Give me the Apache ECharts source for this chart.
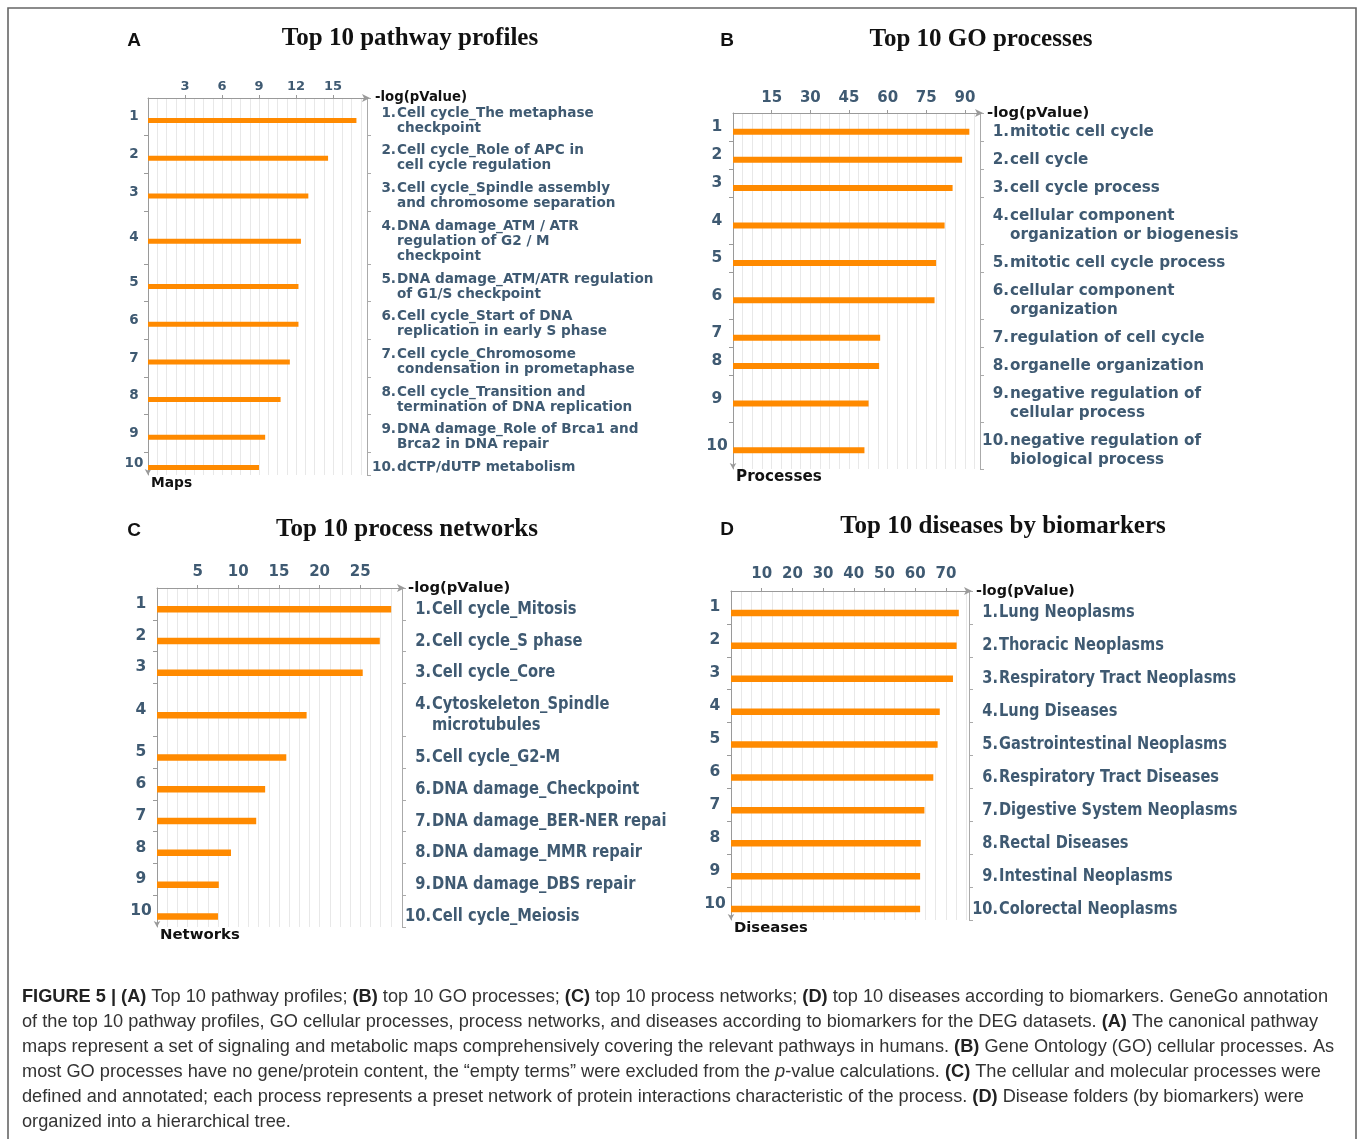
<!DOCTYPE html>
<html>
<head>
<meta charset="utf-8">
<script src="https://cdn.jsdelivr.net/npm/echarts@6/dist/echarts.min.js"></script>
<style>
html,body{margin:0;padding:0;background:#fff;}
#chart{width:1358px;height:1139px;}
</style>
</head>
<body>
<div id="chart"></div>
<script>
// ---------------- DATA ----------------
const rankLabels = ['1','2','3','4','5','6','7','8','9','10'];

const pathwayLabels = [
  'Cell cycle_The metaphase\ncheckpoint',
  'Cell cycle_Role of APC in\ncell cycle regulation',
  'Cell cycle_Spindle assembly\nand chromosome separation',
  'DNA damage_ATM / ATR\nregulation of G2 / M\ncheckpoint',
  'DNA damage_ATM/ATR regulation\nof G1/S checkpoint',
  'Cell cycle_Start of DNA\nreplication in early S phase',
  'Cell cycle_Chromosome\ncondensation in prometaphase',
  'Cell cycle_Transition and\ntermination of DNA replication',
  'DNA damage_Role of Brca1 and\nBrca2 in DNA repair',
  'dCTP/dUTP metabolism'
];
const pathwayValues = [16.9, 14.6, 13.0, 12.4, 12.2, 12.2, 11.5, 10.75, 9.5, 9.0];
const pathwayTicks = [3, 6, 9, 12, 15];

const goLabels = [
  'mitotic cell cycle',
  'cell cycle',
  'cell cycle process',
  'cellular component\norganization or biogenesis',
  'mitotic cell cycle process',
  'cellular component\norganization',
  'regulation of cell cycle',
  'organelle organization',
  'negative regulation of\ncellular process',
  'negative regulation of\nbiological process'
];
const goValues = [91.7, 88.9, 85.2, 82.1, 78.8, 78.2, 57.1, 56.7, 52.6, 51.0];
const goTicks = [15, 30, 45, 60, 75, 90];

const networkLabels = [
  'Cell cycle_Mitosis',
  'Cell cycle_S phase',
  'Cell cycle_Core',
  'Cytoskeleton_Spindle\nmicrotubules',
  'Cell cycle_G2-M',
  'DNA damage_Checkpoint',
  'DNA damage_BER-NER repai',
  'DNA damage_MMR repair',
  'DNA damage_DBS repair',
  'Cell cycle_Meiosis'
];
const networkValues = [28.8, 27.4, 25.3, 18.4, 15.9, 13.3, 12.2, 9.1, 7.6, 7.5];
const networkTicks = [5, 10, 15, 20, 25];

const diseaseLabels = [
  'Lung Neoplasms',
  'Thoracic Neoplasms',
  'Respiratory Tract Neoplasms',
  'Lung Diseases',
  'Gastrointestinal Neoplasms',
  'Respiratory Tract Diseases',
  'Digestive System Neoplasms',
  'Rectal Diseases',
  'Intestinal Neoplasms',
  'Colorectal Neoplasms'
];
const diseaseValues = [74.2, 73.5, 72.3, 68.0, 67.3, 65.9, 63.0, 61.8, 61.6, 61.6];
const diseaseTicks = [10, 20, 30, 40, 50, 60, 70];

const captionLines = [
  '{b|FIGURE 5 | (A)} Top 10 pathway profiles; {b|(B)} top 10 GO processes; {b|(C)} top 10 process networks; {b|(D)} top 10 diseases according to biomarkers. GeneGo annotation',
  'of the top 10 pathway profiles, GO cellular processes, process networks, and diseases according to biomarkers for the DEG datasets. {b|(A)} The canonical pathway',
  'maps represent a set of signaling and metabolic maps comprehensively covering the relevant pathways in humans. {b|(B)} Gene Ontology (GO) cellular processes. As',
  'most GO processes have no gene/protein content, the \u201cempty terms\u201d were excluded from the {i|p}-value calculations. {b|(C)} The cellular and molecular processes were',
  'defined and annotated; each process represents a preset network of protein interactions characteristic of the process. {b|(D)} Disease folders (by biomarkers) were',
  'organized into a hierarchical tree.'
];

// ---------------- STYLE / LAYOUT ----------------
const FONT = '"DejaVu Sans", sans-serif';
const CAP_FONT = '"Liberation Sans", Arial, sans-serif';
const CAP_SIZE = 18.2;
const C_LABEL = '#3f5a72';
const C_BAR = '#ff8a00';
const C_AXIS = '#9a9a9a';
const C_GRID = '#e8e8e8';

const panels = [
  { letter:'A', title:'Top 10 pathway profiles', titleX:410, titleY:39, letterX:134, letterY:41,
    labels: pathwayLabels, values: pathwayValues, ticks: pathwayTicks, interval:3, max:18, yName:'Maps',
    grid:{left:148, top:98, width:222, height:377}, tickFont:13, tickMargin:5, rankFont:13.5, rankMargin:14,
    labelFont:13.6, lineH:15, sy:1, barH:5, nameFont:13.3, nameGap:5, nameLift:12, yNameFont:13.8, minor:4 },
  { letter:'B', title:'Top 10 GO processes', titleX:981, titleY:40, letterX:727, letterY:41,
    labels: goLabels, values: goValues, ticks: goTicks, interval:15, max:97, yName:'Processes',
    grid:{left:733, top:113, width:250, height:356}, tickFont:15, tickMargin:7, rankFont:15.5, rankMargin:16,
    labelFont:15.2, lineH:19, sy:1.05, barH:6, nameFont:14.8, nameGap:4, nameLift:16, yNameFont:15.2, minor:4 },
  { letter:'C', title:'Top 10 process networks', titleX:407, titleY:530, letterX:134, letterY:531,
    labels: networkLabels, values: networkValues, ticks: networkTicks, interval:5, max:30.5, yName:'Networks',
    grid:{left:157, top:588, width:248, height:339}, tickFont:15, tickMargin:8, rankFont:15.5, rankMargin:16,
    labelFont:14.7, lineH:21, sy:1.2, barH:6.5, nameFont:14.8, nameGap:3, nameLift:20, yNameFont:14.9, minor:4 },
  { letter:'D', title:'Top 10 diseases by biomarkers', titleX:1003, titleY:527, letterX:727, letterY:530,
    labels: diseaseLabels, values: diseaseValues, ticks: diseaseTicks, interval:10, max:78.5, yName:'Diseases',
    grid:{left:731, top:591, width:241, height:329}, tickFont:15, tickMargin:9, rankFont:15.5, rankMargin:16,
    labelFont:14.6, lineH:22, sy:1.2, barH:6.5, nameFont:14.3, nameGap:4, nameLift:20, yNameFont:14.8, minor:3 }
];

const grids = [], xAxes = [], yAxes = [], series = [], titles = [];

panels.forEach((p, k) => {
  const lines = p.labels.map(s => s.split('\n').length);
  const rowH = lines.map(n => n + 0.5);
  const tops = []; let acc = 0;
  rowH.forEach(h => { tops.push(acc); acc += h; });
  const total = acc;
  const centers = tops.map((t, i) => t + rowH[i] / 2);
  const inner = tops.slice(1);
  const barPos = centers.map(c => c + 0.25);

  grids.push(Object.assign({containLabel:false}, p.grid));

  xAxes.push({
    gridIndex:k, type:'value', position:'top', min:0, max:p.max, interval:p.interval,
    axisLine:{show:true, onZero:false, lineStyle:{color:C_AXIS, width:1}, symbol:['none','arrow'], symbolSize:[6,8]},
    axisTick:{show:true, length:3, customValues:p.ticks, lineStyle:{color:C_AXIS}},
    axisLabel:{show:true, customValues:p.ticks, color:C_LABEL, fontFamily:FONT, fontWeight:'bold', fontSize:p.tickFont, margin:p.tickMargin},
    splitLine:{show:true, lineStyle:{color:C_GRID, width:1}},
    minorTick:{show:false, splitNumber:p.minor},
    minorSplitLine:{show:true, lineStyle:{color:C_GRID, width:1}},
    name:'-log(pValue)', nameLocation:'end', nameGap:p.nameGap,
    nameTextStyle:{color:'#111', fontFamily:FONT, fontWeight:'bold', fontSize:p.nameFont, align:'left', verticalAlign:'middle', padding:[0,0,p.nameLift,0]}
  });

  yAxes.push({
    gridIndex:k, type:'value', inverse:true, min:0, max:total, position:'left',
    axisLine:{show:true, onZero:false, lineStyle:{color:C_AXIS, width:1}, symbol:['arrow','none'], symbolSize:[5,6]},
    axisTick:{show:true, customValues:inner, length:4, lineStyle:{color:C_AXIS}},
    axisLabel:{show:true, customValues:centers, align:'center', margin:p.rankMargin,
      color:C_LABEL, fontFamily:FONT, fontWeight:'bold', fontSize:p.rankFont,
      formatter: v => { const i = centers.findIndex(c => Math.abs(c - v) < 1e-6); return i >= 0 ? rankLabels[i] : ''; }},
    splitLine:{show:false},
    name:p.yName, nameLocation:'end', nameGap:1,
    nameTextStyle:{color:'#111', fontFamily:FONT, fontWeight:'bold', fontSize:p.yNameFont, align:'left', verticalAlign:'top', padding:[0,0,0,3]}
  });

  yAxes.push({
    gridIndex:k, type:'value', inverse:true, min:0, max:total, position:'right', offset:-3,
    axisLine:{show:true, onZero:false, lineStyle:{color:'#aaaaaa', width:1}},
    axisTick:{show:true, customValues:[0].concat(inner, [total]), length:4, lineStyle:{color:'#aaaaaa'}},
    axisLabel:{show:false}, splitLine:{show:false}
  });

  series.push({
    type:'custom', xAxisIndex:k, yAxisIndex:2 * k, clip:false, silent:true, animation:false,
    data: p.values.map((v, i) => [v, barPos[i], i]),
    encode:{x:0, y:1},
    renderItem: (params, api) => {
      const i = api.value(2);
      const v = api.value(0), yv = api.value(1);
      const a = api.coord([0, yv]), b = api.coord([v, yv]);
      const cs = params.coordSys;
      const xr = cs.x + cs.width + 26;
      const n = lines[i];
      const font = 'bold ' + p.labelFont + 'px ' + FONT;
      return {
        type:'group',
        children:[
          {type:'rect', shape:{x:a[0], y:a[1] - p.barH / 2, width:b[0] - a[0], height:p.barH}, style:{fill:C_BAR}},
          {type:'text', x:xr, y:a[1] - (n - 1) / 2 * p.lineH, scaleY:p.sy,
            style:{text:rankLabels[i] + '.', x:0, y:0, fill:C_LABEL, font:font,
              align:'right', verticalAlign:'middle', textAlign:'right', textVerticalAlign:'middle'}},
          {type:'text', x:xr + 1, y:a[1], scaleY:p.sy,
            style:{text:p.labels[i], x:0, y:0, fill:C_LABEL, font:font, lineHeight:p.lineH / p.sy,
              align:'left', verticalAlign:'middle', textAlign:'left', textVerticalAlign:'middle'}}
        ]
      };
    }
  });

  titles.push({
    text:p.title, left:p.titleX, top:p.titleY, textAlign:'center', textVerticalAlign:'middle', padding:0,
    textStyle:{fontFamily:'"Liberation Serif", serif', fontWeight:'bold', fontSize:25, color:'#111'}
  });
  titles.push({
    text:p.letter, left:p.letterX, top:p.letterY, textAlign:'center', textVerticalAlign:'middle', padding:0,
    textStyle:{fontFamily:CAP_FONT, fontWeight:'bold', fontSize:19, color:'#111'}
  });
});

titles.push({
  text: captionLines.join('\n'), left:22, top:984, padding:0, textAlign:'left', textVerticalAlign:'top',
  textStyle:{
    fontFamily:CAP_FONT, fontSize:CAP_SIZE, fontWeight:'normal', color:'#333', lineHeight:25,
    rich:{
      b:{fontFamily:CAP_FONT, fontSize:CAP_SIZE, fontWeight:'bold', color:'#222', lineHeight:25},
      i:{fontFamily:CAP_FONT, fontSize:CAP_SIZE, fontStyle:'italic', color:'#333', lineHeight:25}
    }
  }
});

const chart = echarts.init(document.getElementById('chart'), null, {renderer:'canvas'});
chart.setOption({
  animation:false,
  backgroundColor:'#ffffff',
  title: titles,
  grid: grids,
  xAxis: xAxes,
  yAxis: yAxes,
  series: series,
  graphic:[
    {type:'rect', shape:{x:8, y:8, width:1348, height:1160}, style:{fill:'none', stroke:'#666', lineWidth:1.6}, silent:true}
  ]
});
</script>
</body>
</html>
